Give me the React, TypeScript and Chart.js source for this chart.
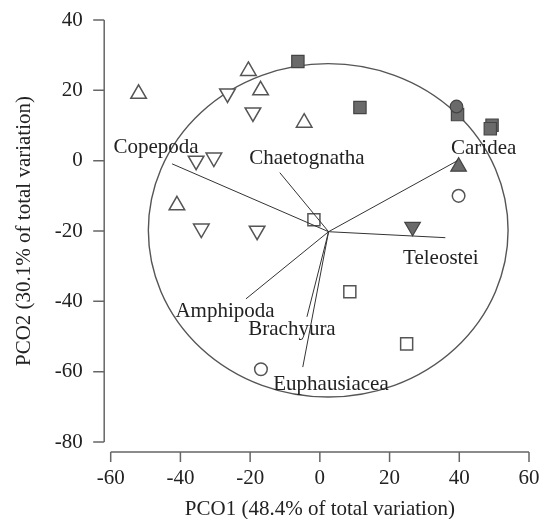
import { useEffect, useRef } from "react";
import { Chart, registerables } from "chart.js";

Chart.register(...registerables);

const X_TITLE = "PCO1 (48.4% of total variation)";
const Y_TITLE = "PCO2 (30.1% of total variation)";
const X_RANGE = [-60, 60];
const Y_RANGE = [-80, 40];
const TICK_STEP = 20;

// sample scores (PCO1, PCO2)
const openUp = [[-52, 19], [-20.5, 25.5], [-17, 20], [-4.5, 10.8], [-41, -12.7]];
const openDown = [[-26.5, 19.1], [-19.2, 13.7], [-35.5, 0], [-30.4, 0.9], [-34, -19.3], [-18, -19.9]];
const openSquare = [[-1.7, -16.8], [8.6, -37.3], [24.9, -52.1]];
const openCircle = [[39.8, -10], [-16.9, -59.3]];
const filledCircle = [[39.2, 15.4]];
const filledSquare = [[-6.3, 28.2], [11.5, 15.1], [39.5, 13.1], [49.4, 10.1], [48.9, 9.1]];
const filledUp = [[39.8, -1.7]];
const filledDown = [[26.6, -18.8]];

// vector overlay
const VECTOR_ORIGIN = [2.5, -20.2];
const vectorNames = ["Copepoda", "Chaetognatha", "Caridea", "Teleostei", "Amphipoda", "Brachyura", "Euphausiacea"];
const vectorEnds = [[-42.4, -0.9], [-11.5, -3.4], [39.5, 0], [36, -21.9], [-21.2, -39.3], [-3.7, -44.4], [-4.9, -58.7]];
const labelAnchors = [[-47, 3.8], [-3.7, 0.7], [47, 3.6], [34.7, -27.8], [-27.2, -42.9], [-8, -48], [3.2, -63.6]];

// correlation circle (centre, radii in axis units)
const CIRCLE_CENTER = [2.4, -19.8];
const CIRCLE_RADII = [51.6, 47.4];

const FONT = "'Liberation Serif', 'Times New Roman', serif";

const pts = (a: number[][]) => a.map(([x, y]) => ({ x, y }));

const overlayPlugin = {
  id: "overlay",
  beforeDatasetsDraw(chart: any) {
    const { ctx, chartArea, scales } = chart;
    const x = scales.x;
    const y = scales.y;
    ctx.save();
    const cx = x.getPixelForValue(CIRCLE_CENTER[0]);
    const cy = y.getPixelForValue(CIRCLE_CENTER[1]);
    const rx = Math.abs(x.getPixelForValue(CIRCLE_CENTER[0] + CIRCLE_RADII[0]) - cx);
    const ry = Math.abs(y.getPixelForValue(CIRCLE_CENTER[1] + CIRCLE_RADII[1]) - cy);
    ctx.beginPath();
    ctx.ellipse(cx, cy, rx, ry, 0, 0, Math.PI * 2);
    ctx.strokeStyle = "#555";
    ctx.lineWidth = 1.4;
    ctx.stroke();

    ctx.strokeStyle = "#666";
    ctx.lineWidth = 1.5;
    const ax = chartArea.left - 6.5;
    const y0 = y.getPixelForValue(Y_RANGE[1]);
    const y1 = y.getPixelForValue(Y_RANGE[0]);
    ctx.beginPath();
    ctx.moveTo(ax, y0);
    ctx.lineTo(ax, y1);
    for (let v = Y_RANGE[0]; v <= Y_RANGE[1]; v += TICK_STEP) {
      const py = y.getPixelForValue(v);
      ctx.moveTo(ax, py);
      ctx.lineTo(ax - 11, py);
    }
    ctx.stroke();
    const ay = chartArea.bottom + 10;
    const x0 = x.getPixelForValue(X_RANGE[0]);
    const x1 = x.getPixelForValue(X_RANGE[1]);
    ctx.beginPath();
    ctx.moveTo(x0, ay);
    ctx.lineTo(x1, ay);
    for (let v = X_RANGE[0]; v <= X_RANGE[1]; v += TICK_STEP) {
      const px = x.getPixelForValue(v);
      ctx.moveTo(px, ay);
      ctx.lineTo(px, ay + 10);
    }
    ctx.stroke();
    ctx.restore();
  },
  afterDatasetsDraw(chart: any) {
    const { ctx, scales } = chart;
    ctx.save();
    ctx.font = `21px ${FONT}`;
    ctx.fillStyle = "#222";
    ctx.textAlign = "center";
    ctx.textBaseline = "middle";
    vectorNames.forEach((name, i) => {
      const [lx, ly] = labelAnchors[i];
      ctx.fillText(name, scales.x.getPixelForValue(lx), scales.y.getPixelForValue(ly));
    });
    ctx.restore();
  },
};

export default function App() {
  const ref = useRef<HTMLCanvasElement | null>(null);
  useEffect(() => {
    document.body.style.margin = "0";
    if (!ref.current) return;
    const openStyle = { backgroundColor: "#ffffff", borderColor: "#555", borderWidth: 1.5 };
    const fillStyle = { backgroundColor: "#6a6a6a", borderColor: "#444", borderWidth: 1.2 };
    const vectorSets = vectorEnds.map((e) => ({
      type: "line" as const,
      data: pts([VECTOR_ORIGIN, e]),
      showLine: true,
      borderColor: "#333",
      borderWidth: 1,
      pointRadius: 0,
      fill: false,
    }));
    const chart = new Chart(ref.current, {
      type: "scatter",
      data: {
        datasets: [
          ...vectorSets,
          { data: pts(openUp), pointStyle: "triangle", pointRadius: 9, ...openStyle },
          { data: pts(openDown), pointStyle: "triangle", pointRotation: 180, pointRadius: 9, ...openStyle },
          { data: pts(openSquare), pointStyle: "rect", pointRadius: 8.5, ...openStyle },
          { data: pts(openCircle), pointStyle: "circle", pointRadius: 6.3, ...openStyle },
          { data: pts(filledCircle), pointStyle: "circle", pointRadius: 6.3, ...fillStyle },
          { data: pts(filledSquare), pointStyle: "rect", pointRadius: 8.7, ...fillStyle },
          { data: pts(filledUp), pointStyle: "triangle", pointRadius: 9, ...fillStyle },
          { data: pts(filledDown), pointStyle: "triangle", pointRotation: 180, pointRadius: 9, ...fillStyle },
        ] as any,
      },
      options: {
        responsive: false,
        animation: false,
        layout: { padding: { top: 20, right: 13, left: 0, bottom: 0 } },
        plugins: { legend: { display: false }, tooltip: { enabled: false } },
        scales: {
          x: {
            type: "linear",
            min: X_RANGE[0],
            max: X_RANGE[1],
            grid: { display: false, drawTicks: false },
            border: { display: false },
            ticks: { stepSize: TICK_STEP, padding: 23.5, color: "#222", font: { family: FONT, size: 21 } },
            title: { display: true, text: X_TITLE, color: "#222", font: { family: FONT, size: 21, lineHeight: 0.95 }, padding: { top: 0, bottom: 0 } },
            afterFit: (s: any) => {
              s.height = 77;
              s.paddingLeft = 0; s.paddingRight = 0; s.paddingTop = 0; s.paddingBottom = 0;
            },
          },
          y: {
            type: "linear",
            min: Y_RANGE[0],
            max: Y_RANGE[1],
            grid: { display: false, drawTicks: false },
            border: { display: false },
            ticks: { stepSize: TICK_STEP, padding: 28, color: "#222", font: { family: FONT, size: 21 } },
            title: { display: true, text: Y_TITLE, color: "#222", font: { family: FONT, size: 21 }, padding: { top: 12, bottom: 0 } },
            afterFit: (s: any) => {
              s.width = 110.7;
              s.paddingLeft = 0; s.paddingRight = 0; s.paddingTop = 0; s.paddingBottom = 0;
            },
          },
        },
      },
      plugins: [overlayPlugin],
    });
    return () => chart.destroy();
  }, []);
  return (
    <div style={{ width: 542, height: 519 }}>
      <canvas ref={ref} width={542} height={519} />
    </div>
  );
}
